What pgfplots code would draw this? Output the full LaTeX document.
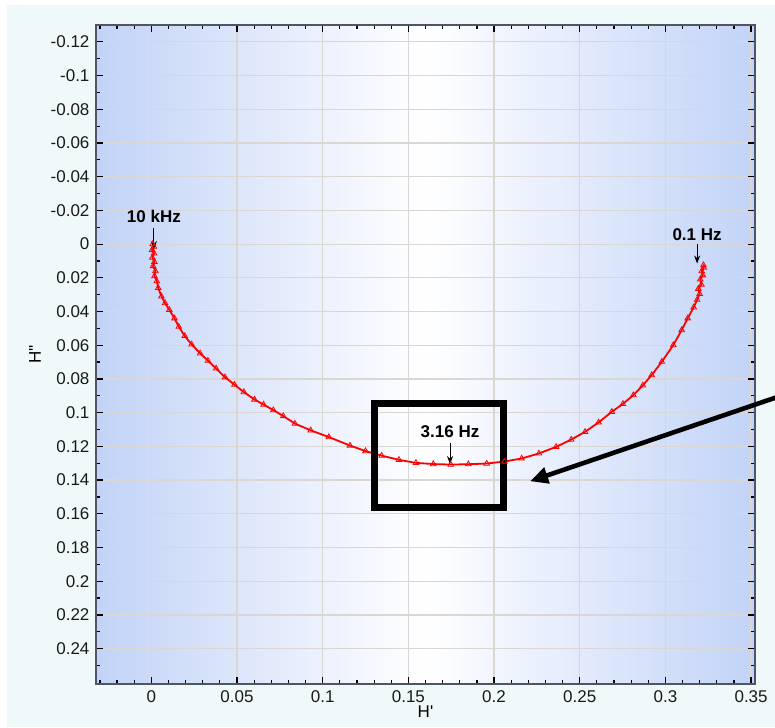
\documentclass[border=0pt]{standalone}
\usepackage{pgfplots}
\pgfplotsset{compat=1.18}
\usepackage{fontspec}
\setmainfont{Liberation Sans}
\usetikzlibrary{arrows.meta}
\definecolor{margin}{RGB}{240,249,250}
\definecolor{edgeblue}{RGB}{194,211,247}
\definecolor{gridc}{RGB}{218,214,210}
\definecolor{axc}{RGB}{80,85,100}
\begin{document}
\begin{tikzpicture}
\path[use as bounding box] (-48.25pt,-21.5pt) rectangle (339.25pt,342pt);
\fill[white] (-48.25pt,-21.5pt) rectangle (339.25pt,342pt);
\fill[margin] (-44.75pt,-21.5pt) rectangle (339.25pt,339.5pt);
\begin{axis}[
  at={(0pt,0pt)}, anchor=south west,
  scale only axis, width=329pt, height=329.5pt,
  xmin=-0.032, xmax=0.352,
  ymin=-0.13, ymax=0.261,
  y dir=reverse,
  clip=false,
  axis background/.style={left color=edgeblue, right color=edgeblue, middle color=white},
  axis line style={axc, line width=1pt},
  xtick={0,0.05,0.1,0.15,0.2,0.25,0.3,0.35},
  xticklabels={0,0.05,0.1,0.15,0.2,0.25,0.3,0.35},
  ytick={-0.12,-0.1,-0.08,-0.06,-0.04,-0.02,0,0.02,0.04,0.06,0.08,0.1,0.12,0.14,0.16,0.18,0.2,0.22,0.24},
  yticklabels={-0.12,-0.1,-0.08,-0.06,-0.04,-0.02,0,0.02,0.04,0.06,0.08,0.1,0.12,0.14,0.16,0.18,0.2,0.22,0.24},
  minor xtick={-0.03,-0.02,-0.01,0.01,0.02,0.03,0.04,0.06,0.07,0.08,0.09,0.11,0.12,0.13,0.14,0.16,0.17,0.18,0.19,0.21,0.22,0.23,0.24,0.26,0.27,0.28,0.29,0.31,0.32,0.33,0.34},
  minor ytick={-0.11,-0.09,-0.07,-0.05,-0.03,-0.01,0.01,0.03,0.05,0.07,0.09,0.11,0.13,0.15,0.17,0.19,0.21,0.23,0.25},
  tick align=inside,
  major tick length=3.5pt, minor tick length=2pt,
  every tick/.style={black, line width=0.6pt},
  grid=major,
  major grid style={gridc, line width=0.6pt},
  tick label style={font=\fontsize{8.5}{10}\selectfont, black!90},
  xlabel={H\textquotesingle},
  ylabel={H\textquotesingle\textquotesingle},
  label style={font=\fontsize{8.5}{10}\selectfont},
  xlabel style={at={(axis description cs:0.5,-0.0425)}, anchor=center},
  ylabel style={at={(axis description cs:-0.0935,0.5)}, anchor=center},
]
\addplot[red, line width=0.9pt, mark=triangle, mark size=1.6pt, mark options={solid, line width=0.4pt}] coordinates {
(0.0008,0.0000) (0.0015,0.0015) (0.0004,0.0035) (0.0016,0.0055) (0.0006,0.0080) (0.0018,0.0105) (0.0010,0.0130) (0.0024,0.0160) (0.0018,0.0190) (0.0032,0.0220) (0.0040,0.0260) (0.0059,0.0310) (0.0080,0.0350) (0.0105,0.0390) (0.0135,0.0440) (0.0160,0.0490) (0.0195,0.0545) (0.0235,0.0595) (0.0285,0.0648) (0.0330,0.0692) (0.0378,0.0738) (0.0430,0.0790) (0.0485,0.0834) (0.0540,0.0878) (0.0602,0.0922) (0.0655,0.0952) (0.0712,0.0985) (0.0770,0.1020) (0.0838,0.1065) (0.0930,0.1105) (0.1036,0.1145) (0.1159,0.1195) (0.1250,0.1228) (0.1344,0.1255) (0.1445,0.1280) (0.1544,0.1298) (0.1645,0.1305) (0.1747,0.1308) (0.1850,0.1306) (0.1957,0.1302) (0.2060,0.1290) (0.2161,0.1272) (0.2262,0.1242) (0.2362,0.1203) (0.2450,0.1160) (0.2531,0.1114) (0.2610,0.1058) (0.2687,0.0995) (0.2752,0.0948) (0.2813,0.0896) (0.2868,0.0838) (0.2920,0.0777) (0.2979,0.0698) (0.3046,0.0599) (0.3095,0.0510) (0.3130,0.0440) (0.3165,0.0375) (0.3185,0.0330) (0.3200,0.0295) (0.3192,0.0265) (0.3210,0.0240) (0.3203,0.0210) (0.3218,0.0185) (0.3212,0.0160) (0.3224,0.0140) (0.3222,0.0125)
};
\node[font=\bfseries\fontsize{8.5}{10}\selectfont] at (axis cs:0.0015,-0.0166) {10 kHz};
\draw[-{Stealth[length=4pt,width=3pt]}, line width=0.5pt] (axis cs:0.0015,-0.0095) -- (axis cs:0.0015,0.003);
\node[font=\bfseries\fontsize{8.5}{10}\selectfont] at (axis cs:0.3185,-0.0055) {0.1 Hz};
\draw[-{Stealth[length=4pt,width=3pt]}, line width=0.5pt] (axis cs:0.3185,0.0) -- (axis cs:0.3185,0.0115);
\node[font=\bfseries\fontsize{8.5}{10}\selectfont] at (axis cs:0.1743,0.1115) {3.16 Hz};
\draw[-{Stealth[length=4pt,width=3pt]}, line width=0.5pt] (axis cs:0.1743,0.118) -- (axis cs:0.1743,0.1305);
\draw[black, line width=3.5pt] (axis cs:0.130,0.0944) rectangle (axis cs:0.2058,0.156);
\draw[black, line width=2.3pt, -{Triangle[length=9pt,width=8pt]}] (axis cs:0.366,0.0905) -- (axis cs:0.221,0.1407);
\end{axis}
\end{tikzpicture}
\end{document}
